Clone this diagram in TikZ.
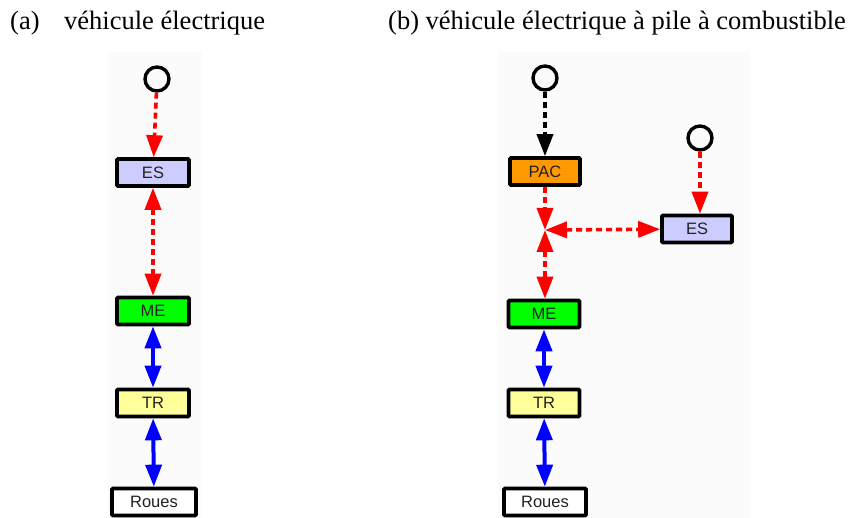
\documentclass[tikz,border=0pt]{standalone}
\usepackage{fontspec}
\setmainfont{Liberation Serif}
\newfontfamily\boxfont{Liberation Sans}
\usetikzlibrary{arrows.meta}
\definecolor{esblue}{HTML}{CCCCFF}
\definecolor{megreen}{HTML}{00FF00}
\definecolor{tryellow}{HTML}{FFFF99}
\definecolor{pacorange}{HTML}{FF9900}
\definecolor{bgpanel}{HTML}{FBFBFB}
\definecolor{txtgray}{HTML}{222222}
\tikzset{
  blk/.style={draw=black, line width=3.6pt, rounded corners=1pt, minimum width=72pt, minimum height=27pt, inner sep=0pt, text=txtgray, font=\boxfont\fontsize{16.5}{16.5}\selectfont},
  src/.style={circle, draw=black, line width=3.4pt, minimum size=24pt, inner sep=0pt},
  rtip/.tip={Triangle[length=22pt,width=16pt]},
  reddash/.style={draw=red, line width=3.6pt, dash pattern=on 6pt off 4pt},
  blue2/.style={draw=blue, line width=4pt, rtip-rtip},
  title/.style={anchor=base west, inner sep=0pt, font=\fontsize{26.5}{26.5}\selectfont}
}
\begin{document}
\begin{tikzpicture}[x=1pt,y=-1pt]
\useasboundingbox[fill=white] (0,0) rectangle (852,518);
% faint panels
\fill[bgpanel] (108,52) rectangle (202,518);
\fill[bgpanel] (498,52) rectangle (750,518);
% titles
\node[title] (ta) at (10,30) {(a)};
\node[title] (tat) at (64,30) {véhicule électrique};
\node[title] (tb) at (388,30) {(b) véhicule électrique à pile à combustible};
% left diagram
\node[src] (c1) at (157,79) {};
\node[blk, fill=esblue] (es1) at (153,172.5) {ES};
\node[blk, fill=megreen] (me1) at (153,311) {ME};
\node[blk, fill=tryellow] (tr1) at (153,403) {TR};
\node[blk, fill=white, minimum width=84pt] (ro1) at (154,502) {Roues};
\draw[reddash, -rtip] (c1) -- (es1);
\draw[reddash, rtip-rtip] (es1) -- (me1);
\draw[blue2] (me1) -- (tr1);
\draw[blue2] (tr1) -- (ro1);
% right diagram
\node[src] (c2) at (545,78) {};
\node[blk, fill=pacorange, minimum width=70pt] (pac) at (545,171.5) {PAC};
\node[src] (c3) at (700,138) {};
\node[blk, fill=esblue, minimum width=70pt] (es2) at (697,229) {ES};
\coordinate (j) at (545,230);
\node[blk, fill=megreen, minimum width=71pt] (me2) at (544,314) {ME};
\node[blk, fill=tryellow, minimum width=71pt] (tr2) at (544,403) {TR};
\node[blk, fill=white, minimum width=82pt] (ro2) at (545,502) {Roues};
\draw[draw=black, line width=3.6pt, dash pattern=on 6pt off 4pt, -rtip] (c2) -- (pac);
\draw[reddash, -rtip] (c3) -- (c3 |- es2.north);
\draw[reddash, -rtip] (pac) -- (j);
\draw[reddash, rtip-rtip] (j) -- (es2);
\draw[reddash, rtip-rtip] (j) -- (me2.north -| j);
\draw[blue2] (me2) -- (tr2);
\draw[blue2] (tr2) -- (ro2);
\end{tikzpicture}
\end{document}
